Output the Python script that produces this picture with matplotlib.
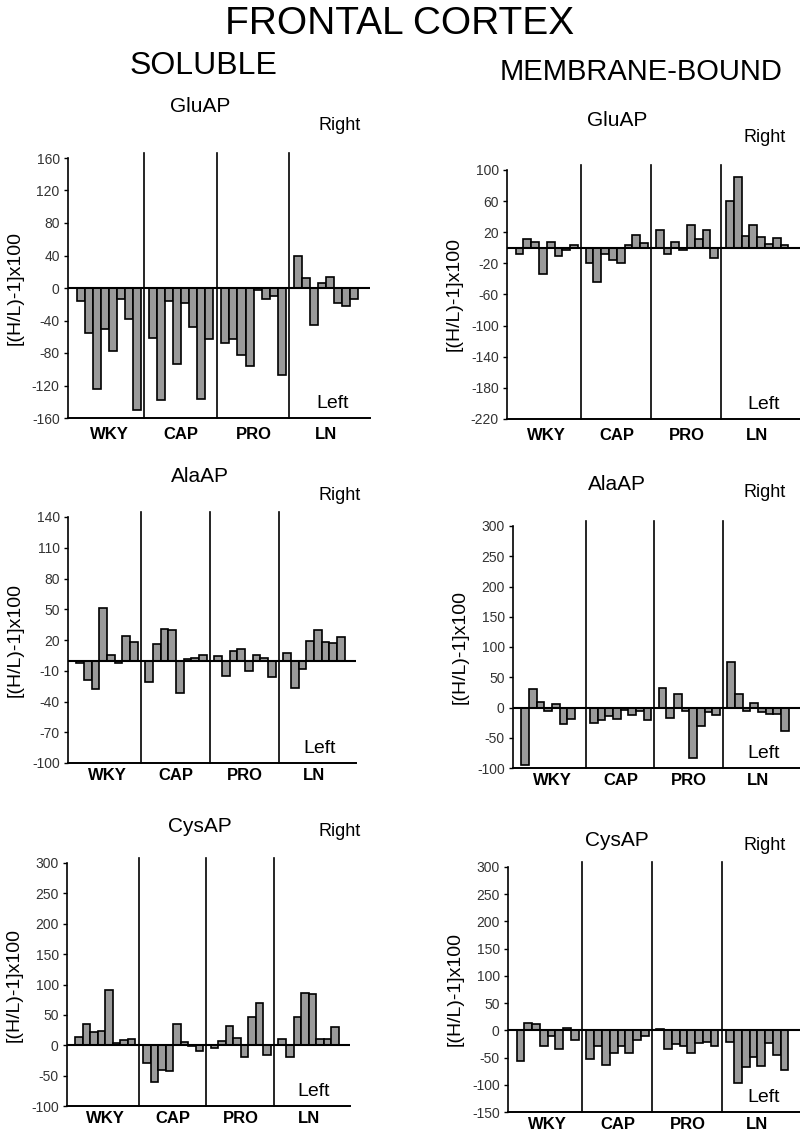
import numpy as np
import matplotlib
matplotlib.use('Agg')
import matplotlib.pyplot as plt

plt.rcParams.update({
    'font.family': ['Liberation Sans', 'DejaVu Sans'],
    'figure.facecolor': 'white',
})

W, H = 800, 1130
GROUPS = ['WKY', 'CAP', 'PRO', 'LN']
BAR_GRAY = '#9a9a9a'
TICK_GRAY = '#333333'

# ── Data: [(H/L)-1]x100, 8 animals per strain ────────────────────────────────
sol_glu = [[-16, -55, -124, -50, -77, -14, -38, -150],
           [-61, -138, -16, -94, -18, -48, -136, -63],
           [-68, -63, -83, -96, -2, -14, -10, -107],
           [39, 12, -45, 6, 13, -19, -22, -14]]
mem_glu = [[-8, 11, 8, -34, 8, -10, -3, 3],
           [-20, -44, -8, -16, -20, 4, 16, 6],
           [23, -8, 7, -3, 29, 11, 23, -13],
           [60, 91, 15, 29, 14, 5, 12, 3]]
sol_ala = [[-2, -19, -28, 51, 5, -2, 24, 18],
           [-21, 16, 31, 30, -32, 1, 2, 5],
           [4, -15, 9, 11, -10, 5, 2, -16],
           [7, -27, -8, 19, 30, 18, 17, 23]]
mem_ala = [[-95, 30, 9, -5, 5, -28, -19, -1],
           [-25, -21, -14, -19, -4, -13, -6, -21],
           [33, -18, 22, -6, -84, -30, -8, -13],
           [76, 23, -5, 7, -8, -10, -10, -39]]
sol_cys = [[13, 35, 22, 24, 91, 3, 9, 11],
           [-29, -61, -41, -43, 35, 5, -1, -10],
           [-4, 7, 32, 12, -19, 47, 69, -16],
           [11, -19, 47, 86, 85, 10, 10, 30]]
mem_cys = [[-57, 14, 12, -29, -10, -35, 5, -18],
           [-53, -28, -64, -41, -28, -41, -17, -11],
           [3, -35, -25, -28, -41, -24, -22, -29],
           [-21, -97, -68, -49, -66, -23, -46, -72]]

# y ranges / ticks per panel
yt_sol_glu = np.arange(-160, 161, 40)
yt_mem_glu = np.arange(-220, 101, 40)
yt_sol_ala = np.arange(-100, 141, 30)
yt_mem_ala = np.arange(-100, 301, 50)
yt_sol_cys = np.arange(-100, 301, 50)
yt_mem_cys = np.arange(-150, 301, 50)


def px_rect(left, top, right, bottom):
    return [left / W, 1 - bottom / H, (right - left) / W, (bottom - top) / H]


def ftext(x, y, s, **kw):
    fig.text(x / W, 1 - y / H, s, **kw)


def panel(rect, data, yticks, label_y):
    ax = fig.add_axes(px_rect(*rect))
    for g, vals in enumerate(data):
        xs = g * 9 + np.arange(len(vals)) + 0.5
        ax.bar(xs, vals, width=1.0, color=BAR_GRAY, edgecolor='black',
               linewidth=1.2, zorder=2)
        if g > 0:
            ax.axvline(g * 9 - 0.6, ymin=0, ymax=1.02, color='black',
                       lw=1.2, clip_on=False, zorder=3)
        ax.text(g * 9 + 4, label_y, GROUPS[g], ha='center', va='top',
                fontsize=12, fontweight='bold', transform=ax.get_xaxis_transform())
    ax.axhline(0, color='black', lw=1.5, zorder=3)
    ax.set_xlim(-1.1, 36.5)
    ax.set_ylim(yticks[0], yticks[-1])
    ax.set_yticks(yticks)
    ax.set_yticklabels([str(t) for t in yticks], fontsize=10, color=TICK_GRAY)
    ax.set_xticks([])
    for s in ('top', 'right'):
        ax.spines[s].set_visible(False)
    ax.spines['left'].set_linewidth(1.2)
    ax.spines['bottom'].set_linewidth(1.4)
    ax.tick_params(axis='y', length=3, width=1, pad=3)
    ax.set_ylabel('[(H/L)-1]x100', fontsize=14, labelpad=6)
    ax.text(0.93, 0.025, 'Left', ha='right', va='bottom', fontsize=14,
            transform=ax.transAxes)
    return ax


fig = plt.figure(figsize=(W / 100, H / 100), dpi=100)

# headers
ftext(400, 24, 'FRONTAL CORTEX', ha='center', va='center', fontsize=28)
ftext(203, 66, 'SOLUBLE', ha='center', va='center', fontsize=23)
ftext(641, 72, 'MEMBRANE-BOUND', ha='center', va='center', fontsize=21)

# row 1: GluAP
ftext(200, 106, 'GluAP', ha='center', va='center', fontsize=15)
ftext(340, 125, 'Right', ha='center', va='center', fontsize=13)
ftext(617, 121, 'GluAP', ha='center', va='center', fontsize=15)
ftext(765, 137, 'Right', ha='center', va='center', fontsize=13)
panel((68, 158, 370, 418), sol_glu, yt_sol_glu, -0.035)
panel((507, 170, 800, 419), mem_glu, yt_mem_glu, -0.035)

# row 2: AlaAP
ftext(200, 476, 'AlaAP', ha='center', va='center', fontsize=15)
ftext(340, 496, 'Right', ha='center', va='center', fontsize=13)
ftext(617, 485, 'AlaAP', ha='center', va='center', fontsize=15)
ftext(765, 493, 'Right', ha='center', va='center', fontsize=13)
panel((68, 517, 356, 763), sol_ala, yt_sol_ala, -0.02)
panel((513, 526, 800, 768), mem_ala, yt_mem_ala, -0.02)

# row 3: CysAP
ftext(200, 826, 'CysAP', ha='center', va='center', fontsize=15)
ftext(340, 832, 'Right', ha='center', va='center', fontsize=13)
ftext(617, 840, 'CysAP', ha='center', va='center', fontsize=15)
ftext(765, 845, 'Right', ha='center', va='center', fontsize=13)
panel((67, 863, 350, 1106), sol_cys, yt_sol_cys, -0.02)
panel((508, 867, 800, 1112), mem_cys, yt_mem_cys, -0.02)

fig.savefig('out.png', dpi=100)
